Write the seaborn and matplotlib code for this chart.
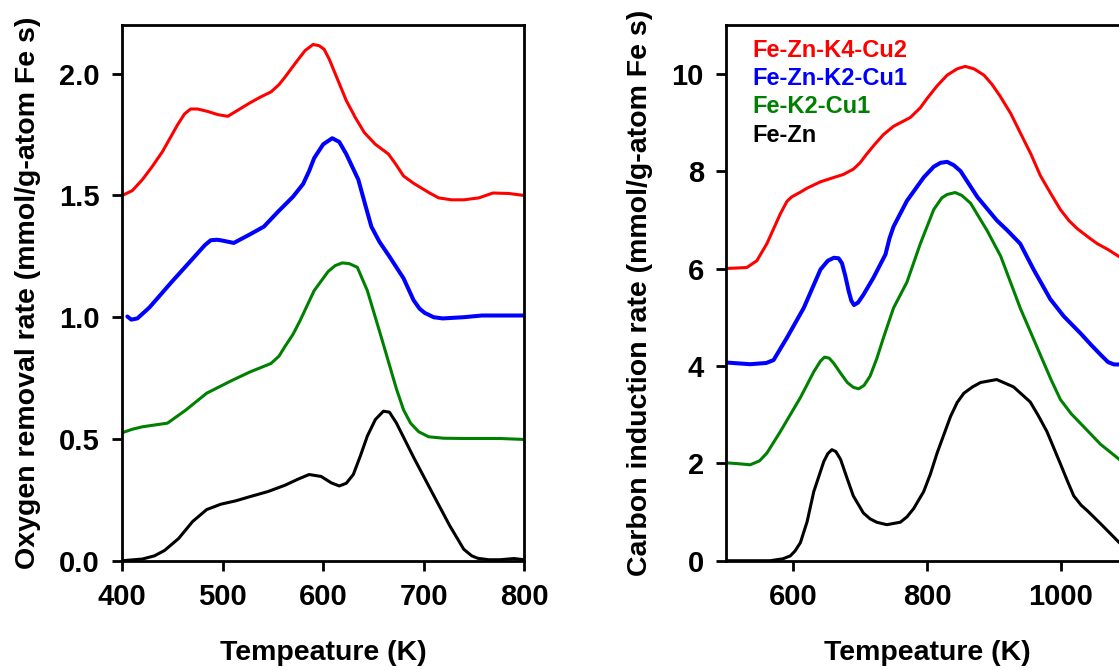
import numpy as np
import pandas as pd
import matplotlib
matplotlib.use("Agg")
import matplotlib.pyplot as plt
from matplotlib.ticker import FormatStrFormatter
import seaborn as sns

# ---------------- data ----------------
series_names = ["Fe-Zn-K4-Cu2", "Fe-Zn-K2-Cu1", "Fe-K2-Cu1", "Fe-Zn"]
series_colors = ["#FF0000", "#0000FF", "#008000", "#000000"]

# Left panel: oxygen removal rate
ox_red_T = [400, 410, 420, 430, 440, 455, 462, 468, 475, 485, 495, 505, 515, 527, 538, 548, 556, 562, 573, 582, 590, 596, 601, 606, 612, 623, 632, 641, 652, 665, 672, 680, 690, 698, 706, 715, 728, 740, 755, 769, 785, 800]
ox_red_v = [1.50, 1.52, 1.565, 1.62, 1.68, 1.79, 1.835, 1.855, 1.855, 1.845, 1.832, 1.825, 1.85, 1.88, 1.905, 1.925, 1.955, 1.986, 2.047, 2.095, 2.12, 2.115, 2.10, 2.06, 2.00, 1.89, 1.82, 1.758, 1.71, 1.67, 1.63, 1.58, 1.55, 1.53, 1.51, 1.49, 1.482, 1.482, 1.49, 1.51, 1.508, 1.50]

ox_blue_T = [405, 409, 415, 427, 449, 470, 482, 488, 494, 498, 511, 527, 541, 555, 570, 580, 586, 591, 600, 609, 616, 623, 635, 642, 648, 656, 666, 680, 690, 696, 701, 710, 719, 740, 758, 800]
ox_blue_v = [1.003, 0.99, 0.995, 1.04, 1.144, 1.24, 1.295, 1.316, 1.318, 1.316, 1.305, 1.34, 1.372, 1.433, 1.495, 1.547, 1.60, 1.653, 1.71, 1.735, 1.72, 1.67, 1.565, 1.46, 1.372, 1.31, 1.249, 1.16, 1.07, 1.035, 1.018, 1.0, 0.995, 1.0, 1.007, 1.007]

ox_green_T = [400, 410, 420, 445, 463, 484, 509, 527, 548, 556, 562, 570, 577, 591, 605, 612, 619, 626, 634, 644, 658, 673, 680, 687, 695, 705, 720, 740, 776, 800]
ox_green_v = [0.526, 0.54, 0.55, 0.565, 0.618, 0.688, 0.74, 0.775, 0.81, 0.84, 0.88, 0.93, 0.986, 1.109, 1.188, 1.212, 1.223, 1.22, 1.205, 1.109, 0.916, 0.705, 0.62, 0.565, 0.53, 0.509, 0.503, 0.502, 0.502, 0.498]

ox_black_T = [400, 420, 432, 442, 456, 470, 484, 498, 513, 527, 545, 562, 575, 586, 598, 608, 616, 623, 630, 637, 644, 652, 660, 666, 673, 690, 708, 726, 740, 748, 754, 765, 776, 790, 800]
ox_black_v = [0.0, 0.007, 0.02, 0.042, 0.091, 0.161, 0.21, 0.232, 0.246, 0.263, 0.284, 0.31, 0.335, 0.354, 0.346, 0.32, 0.307, 0.318, 0.354, 0.43, 0.512, 0.58, 0.614, 0.61, 0.565, 0.425, 0.284, 0.144, 0.047, 0.02, 0.01, 0.004, 0.004, 0.009, 0.004]

# Right panel: carbon induction rate
c_red_T = [500, 531, 546, 561, 581, 591, 598, 610, 621, 641, 661, 675, 690, 700, 710, 722, 735, 750, 775, 790, 800, 815, 830, 845, 857, 870, 885, 897, 909, 925, 939, 955, 969, 985, 999, 1012, 1024, 1040, 1054, 1070, 1086, 1100]
c_red_v = [6.0, 6.02, 6.16, 6.51, 7.12, 7.38, 7.47, 7.56, 7.65, 7.78, 7.87, 7.93, 8.04, 8.17, 8.35, 8.55, 8.75, 8.92, 9.10, 9.30, 9.49, 9.75, 9.97, 10.10, 10.15, 10.10, 9.97, 9.78, 9.54, 9.18, 8.79, 8.35, 7.91, 7.53, 7.21, 6.98, 6.82, 6.65, 6.51, 6.39, 6.25, 6.15]

c_blue_T = [500, 536, 560, 571, 591, 616, 641, 652, 661, 668, 673, 678, 683, 687, 691, 697, 705, 720, 738, 744, 750, 770, 795, 810, 820, 830, 840, 850, 875, 904, 920, 939, 959, 984, 1004, 1029, 1045, 1059, 1070, 1079, 1100]
c_blue_v = [4.07, 4.035, 4.06, 4.12, 4.58, 5.19, 5.98, 6.16, 6.22, 6.21, 6.11, 5.85, 5.54, 5.34, 5.25, 5.30, 5.46, 5.81, 6.29, 6.62, 6.86, 7.39, 7.87, 8.09, 8.17, 8.19, 8.12, 8.0, 7.47, 6.99, 6.78, 6.51, 5.98, 5.37, 5.02, 4.67, 4.43, 4.23, 4.08, 4.03, 4.03]

c_green_T = [500, 520, 536, 550, 561, 581, 611, 631, 641, 647, 654, 661, 671, 681, 690, 698, 706, 715, 725, 735, 750, 770, 790, 810, 822, 830, 842, 852, 865, 890, 910, 939, 969, 985, 999, 1015, 1029, 1059, 1087, 1100]
c_green_v = [2.01, 1.99, 1.97, 2.05, 2.21, 2.65, 3.35, 3.88, 4.10, 4.18, 4.16, 4.05, 3.85, 3.66, 3.56, 3.53, 3.60, 3.79, 4.15, 4.58, 5.19, 5.72, 6.51, 7.21, 7.45, 7.52, 7.56, 7.50, 7.34, 6.77, 6.25, 5.19, 4.23, 3.72, 3.31, 3.02, 2.82, 2.39, 2.08, 1.97]

c_black_T = [500, 530, 566, 585, 596, 603, 611, 621, 631, 646, 652, 658, 664, 671, 680, 690, 705, 715, 725, 740, 760, 770, 780, 795, 805, 815, 835, 845, 855, 868, 880, 904, 929, 954, 966, 979, 999, 1010, 1019, 1030, 1039, 1059, 1087, 1100]
c_black_v = [0.0, 0.0, 0.0, 0.04, 0.10, 0.20, 0.37, 0.80, 1.42, 2.04, 2.20, 2.28, 2.24, 2.08, 1.72, 1.33, 0.98, 0.86, 0.79, 0.74, 0.79, 0.90, 1.07, 1.42, 1.78, 2.21, 2.96, 3.25, 3.44, 3.57, 3.66, 3.72, 3.57, 3.26, 2.98, 2.65, 1.99, 1.62, 1.33, 1.14, 1.03, 0.76, 0.37, 0.22]

left_xticks = [400, 500, 600, 700, 800]
left_yticks = [0.0, 0.5, 1.0, 1.5, 2.0]
right_xticks = [600, 800, 1000]
right_yticks = [0, 2, 4, 6, 8, 10]

xlabel = "Tempeature (K)"
left_ylabel = "Oxygen removal rate (mmol/g-atom Fe s)"
right_ylabel = "Carbon induction rate (mmol/g-atom Fe s)"


def frame(Ts, vs):
    rows = []
    for name, T, v in zip(series_names, Ts, vs):
        rows.append(pd.DataFrame({"T": T, "v": v, "series": name}))
    return pd.concat(rows, ignore_index=True)


df_ox = frame([ox_red_T, ox_blue_T, ox_green_T, ox_black_T],
              [ox_red_v, ox_blue_v, ox_green_v, ox_black_v])
df_c = frame([c_red_T, c_blue_T, c_green_T, c_black_T],
             [c_red_v, c_blue_v, c_green_v, c_black_v])

# ---------------- style ----------------
sns.set_theme(style="ticks")
plt.rcParams["font.family"] = ["Liberation Sans", "DejaVu Sans"]
plt.rcParams["font.weight"] = "bold"
plt.rcParams["axes.labelweight"] = "bold"
plt.rcParams["text.color"] = "black"
plt.rcParams["axes.labelcolor"] = "black"
plt.rcParams["xtick.color"] = "black"
plt.rcParams["ytick.color"] = "black"
plt.rcParams["lines.solid_capstyle"] = "round"
plt.rcParams["lines.solid_joinstyle"] = "round"

fig = plt.figure(figsize=(11.19, 6.70), dpi=100)
ax1 = fig.add_axes([0.1093, 0.1631, 0.359, 0.7996])
ax2 = fig.add_axes([0.6488, 0.1631, 0.3593, 0.7996])

widths = {"Fe-Zn-K4-Cu2": 2.2, "Fe-Zn-K2-Cu1": 2.9, "Fe-K2-Cu1": 2.2, "Fe-Zn": 2.2}
palette = dict(zip(series_names, series_colors))

for ax, df in ((ax1, df_ox), (ax2, df_c)):
    for name in series_names[::-1]:
        sub = df[df["series"] == name]
        sns.lineplot(data=sub, x="T", y="v", color=palette[name], estimator=None,
                     sort=False, linewidth=widths[name], ax=ax, legend=False)

ax1.set_xlim(400, 800)
ax1.set_ylim(0, 2.2)
ax1.set_xticks(left_xticks)
ax1.set_yticks(left_yticks)
ax1.yaxis.set_major_formatter(FormatStrFormatter("%.1f"))
ax1.set_ylabel(left_ylabel, fontsize=20.5, fontweight="bold", labelpad=13)

ax2.set_xlim(500, 1100)
ax2.set_ylim(0, 11)
ax2.set_xticks(right_xticks)
ax2.set_yticks(right_yticks)
ax2.set_ylabel(right_ylabel, fontsize=20.5, fontweight="bold", labelpad=13)

for ax in (ax1, ax2):
    for sp in ax.spines.values():
        sp.set_linewidth(2.0)
        sp.set_color("black")
    ax.tick_params(direction="out", length=7, width=2.0, labelsize=21, pad=9, colors="black")
    ax.set_xlabel(xlabel, fontsize=20.5, fontweight="bold", labelpad=21, color="black")
    for lab in ax.get_xticklabels() + ax.get_yticklabels():
        lab.set_fontweight("bold")
        lab.set_color("black")

# legend as coloured text
for i, (name, col) in enumerate(zip(series_names, series_colors)):
    ax2.text(0.066, 0.953 - i * 0.0528, name, color=col, fontsize=17, fontweight="bold",
             transform=ax2.transAxes, ha="left", va="center")

fig.savefig("out.png", dpi=100)
